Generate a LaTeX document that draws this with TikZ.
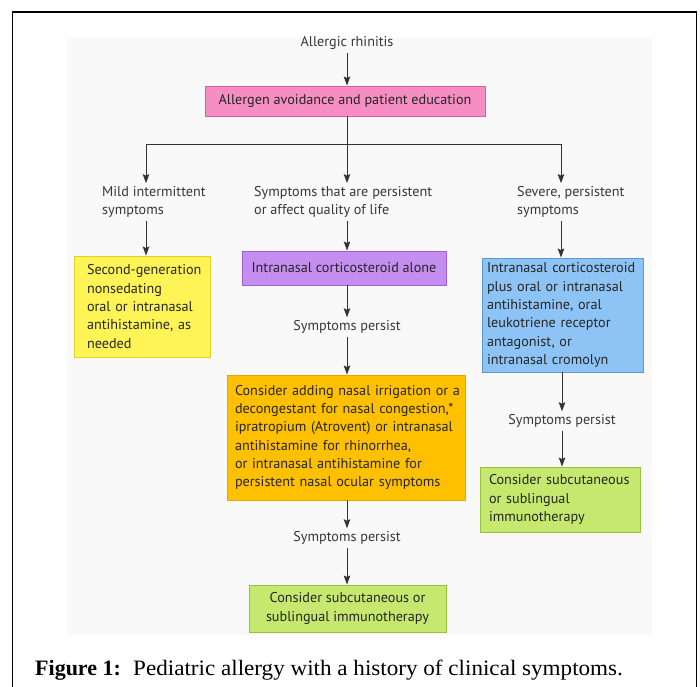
\documentclass[tikz,border=0pt]{standalone}
\usepackage{fontspec}
\setmainfont{Liberation Serif}
\newfontfamily\capfont[FakeStretch=1.05]{Liberation Serif}
\newfontfamily\diag{PT Sans}
\usetikzlibrary{arrows.meta,calc}
\newcommand\oneline[1]{\mbox{#1}}
\definecolor{pinkF}{RGB}{246,142,196}
\definecolor{pinkD}{RGB}{225,90,160}
\definecolor{purpF}{RGB}{196,142,240}
\definecolor{purpD}{RGB}{160,95,210}
\definecolor{yelF}{RGB}{255,244,85}
\definecolor{yelD}{RGB}{225,210,40}
\definecolor{bluF}{RGB}{142,196,245}
\definecolor{bluD}{RGB}{95,150,215}
\definecolor{oraF}{RGB}{255,192,0}
\definecolor{oraD}{RGB}{230,165,0}
\definecolor{greF}{RGB}{198,232,110}
\definecolor{greD}{RGB}{150,195,60}
\definecolor{txt}{RGB}{55,55,55}
\definecolor{bg}{RGB}{249,249,249}
\begin{document}
\begin{tikzpicture}[x=1pt,y=-1pt,
  box/.style={draw, line width=0.9pt, inner sep=0pt, text=black!85,
    font=\diag\fontsize{14.2}{18.3}\selectfont},
  lbl/.style={text=txt, align=left, inner sep=3pt,
    font=\diag\fontsize{14.2}{18.3}\selectfont},
  arr/.style={-{Stealth[length=9pt,width=6.5pt,inset=1.5pt]}, line width=1pt, draw=black!80},
  ln/.style={line width=1pt, draw=black!80}]
\useasboundingbox (0,0) rectangle (700,686);
\fill[white] (0,0) rectangle (700,686);
\fill[bg] (67,38) rectangle (652,635);
\draw[line width=1.8pt] (12.5,700) -- (12.5,12) -- (696.5,12) -- (696.5,700);

% labels
\node[lbl] (top) at (347,43) {Allergic rhinitis};
\node[lbl, anchor=west] (mild) at (99,202) {Mild intermittent\\symptoms};
\node[lbl, anchor=west] (mid) at (251,202) {Symptoms that are persistent\\or affect quality of life};
\node[lbl, anchor=west] (sev) at (514,202) {Severe, persistent\\symptoms};
\node[lbl] (sp1) at (347,327) {Symptoms persist};
\node[lbl] (sp2) at (562,421) {Symptoms persist};
\node[lbl] (sp3) at (347,538) {Symptoms persist};

% boxes
\node[box, fill=pinkF, draw=pinkD, minimum width=280, minimum height=30] (pink) at (345,101)
  {Allergen avoidance and patient education};
\node[box, fill=purpF, draw=purpD, minimum width=204, minimum height=34] (purple) at (344,268)
  {Intranasal corticosteroid alone};
\node[box, fill=yelF, draw=yelD, minimum width=136, minimum height=101, text width=110, align=left] (yellow) at (142,306.5)
  {\oneline{Second-generation}\\\oneline{nonsedating}\\\oneline{oral or intranasal}\\\oneline{antihistamine, as}\\\oneline{needed}};
\node[box, fill=bluF, draw=bluD, minimum width=161, minimum height=114, text width=151, align=left] (blue) at (562.5,315)
  {\oneline{Intranasal corticosteroid}\\\oneline{plus oral or intranasal}\\\oneline{antihistamine, oral}\\\oneline{leukotriene receptor}\\\oneline{antagonist, or}\\\oneline{intranasal cromolyn}};
\node[box, fill=oraF, draw=oraD, minimum width=238, minimum height=125, text width=222, align=left] (orange) at (346,437.5)
  {\oneline{Consider adding nasal irrigation or a}\\\oneline{decongestant for nasal congestion,*}\\\oneline{ipratropium (Atrovent) or intranasal}\\\oneline{antihistamine for rhinorrhea,}\\\oneline{or intranasal antihistamine for}\\\oneline{persistent nasal ocular symptoms}\vphantom{p}\\[-8pt]};
\node[box, fill=greF, draw=greD, minimum width=160, minimum height=65, text width=142, align=left] (green1) at (560,499.5)
  {\oneline{Consider subcutaneous}\\\oneline{or sublingual}\\\oneline{immunotherapy}};
\node[box, fill=greF, draw=greD, minimum width=197, minimum height=47, align=center] (green2) at (347.5,608.5)
  {Consider subcutaneous or\\sublingual immunotherapy};

% branch coordinates
\coordinate (br) at (347,144);
\coordinate (cl) at (146,144);
\coordinate (cr) at (561,144);

% connectors
\draw[arr] (top.south) -- (top.south |- pink.north);
\draw[ln] (br |- pink.south) -- (br);
\draw[ln] (cl) -- (cr);
\draw[arr] (br) -- (br |- mid.north);
\draw[arr] (cl) -- (cl |- mild.north);
\draw[arr] (cr) -- (cr |- sev.north);
\draw[arr] (cl |- mild.south) -- (cl |- yellow.north);
\draw[arr] (br |- mid.south) -- (br |- purple.north);
\draw[arr] (cr |- sev.south) -- (cr |- blue.north);
\draw[arr] (br |- purple.south) -- (sp1.north);
\draw[arr] (sp1.south) -- (sp1.south |- orange.north);
\draw[arr] (sp1.south |- orange.south) -- (sp3.north);
\draw[arr] (sp3.south) -- (sp3.south |- green2.north);
\draw[arr] (sp2.north |- blue.south) -- (sp2.north);
\draw[arr] (sp2.south) -- (sp2.south |- green1.north);

% caption
\node[anchor=base west, inner sep=0pt, font=\fontsize{22}{26}\selectfont\bfseries] (figlbl) at (35,675) {Figure 1:};
\node[anchor=base west, inner sep=0pt, font=\capfont\fontsize{22}{26}\selectfont] (cap) at (133,675)
  {Pediatric allergy with a history of clinical symptoms.};
\end{tikzpicture}
\end{document}
